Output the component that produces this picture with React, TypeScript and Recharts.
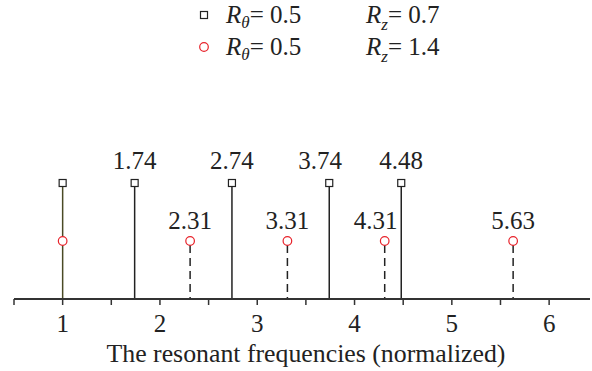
import * as React from 'react';
import { ComposedChart, Scatter, XAxis, YAxis, ReferenceLine, LabelList, Legend } from 'recharts';

// resonant frequencies of the two configurations (normalized)
const squareFreqs = [1, 1.74, 2.74, 3.74, 4.48];
const circleFreqs = [1, 2.31, 3.31, 4.31, 5.63];
const squareLevel = 1;
const circleLevel = 0.5;

const xTicks = [0.5, 1, 1.5, 2, 2.5, 3, 3.5, 4, 4.5, 5, 5.5, 6];

const rThetaValues = ['0.5', '0.5'];
const rZValues = ['0.7', '1.4'];

// a couple of labels sit a little left so they clear the neighbouring stem
const labelNudge: Record<string, number> = { '3.74': -9, '4.31': -9 };

const FONT = 'Liberation Serif, Tinos, Times New Roman, DejaVu Serif, serif';
const INK = '#222';
const RED = '#e8232b';

const squareData = squareFreqs.map(f => ({ f, h: squareLevel }));
const circleData = circleFreqs.map(f => ({ f, h: circleLevel }));

const SquareMark = (p: any) => (
	<rect x={p.cx - 3.5} y={p.cy - 3.5} width={7} height={7} fill="#fff" stroke={INK} strokeWidth={1.2} />
);

const CircleMark = (p: any) => (
	<circle cx={p.cx} cy={p.cy} r={4.3} fill="#fff" stroke={RED} strokeWidth={1.2} />
);

const stemLabel = (lift: number) => (props: any) => {
	const { value } = props;
	if (value === 1) return null;
	const vb = props.viewBox || props;
	const cx = vb.x + (vb.width || 0) / 2;
	const cy = vb.y + (vb.height || 0) / 2;
	const text = Number(value).toFixed(2);
	return (
		<text
			x={cx + (labelNudge[text] || 0)}
			y={cy - lift}
			textAnchor="middle"
			style={{ fontFamily: FONT, fontSize: 25 }}
			fill={INK}
		>
			{text}
		</text>
	);
};

const renderLegend = () => (
	<svg width={592} height={70} style={{ fontFamily: FONT }}>
		{rThetaValues.map((rt, i) => {
			const y = 15 + i * 32;
			return (
				<g key={i}>
					{i === 0 ? (
						<rect x={200.5} y={y - 3.5} width={7} height={7} fill="#fff" stroke={INK} strokeWidth={1.2} />
					) : (
						<circle cx={204} cy={y} r={4.3} fill="#fff" stroke={RED} strokeWidth={1.2} />
					)}
					<text x={226} y={y + 8} style={{ fontFamily: FONT, fontSize: 25 }} fill={INK}>
						<tspan fontStyle="italic">R</tspan>
						<tspan fontStyle="italic" fontSize={17} dy={5}>θ</tspan>
						<tspan dy={-5}>{'= ' + rt}</tspan>
					</text>
					<text x={366} y={y + 8} style={{ fontFamily: FONT, fontSize: 25 }} fill={INK}>
						<tspan fontStyle="italic">R</tspan>
						<tspan fontStyle="italic" fontSize={17} dy={7}>z</tspan>
						<tspan dy={-7}>{'= ' + rZValues[i]}</tspan>
					</text>
				</g>
			);
		})}
	</svg>
);

export default function App() {
	return (
		<div style={{ position: 'absolute', left: 0, top: 0, fontFamily: FONT }}>
			<ComposedChart width={592} height={371} margin={{ top: 183, right: 2, bottom: 0, left: 14 }}>
				<XAxis
					type="number"
					dataKey="f"
					domain={[0.5, 6.42]}
					allowDataOverflow
					ticks={xTicks}
					tickFormatter={(v: number) => (Number.isInteger(v) ? String(v) : '')}
					height={72}
					tickSize={6}
					tickMargin={9}
					axisLine={{ stroke: '#333', strokeWidth: 2 }}
					tickLine={{ stroke: '#333', strokeWidth: 1.5 }}
					tick={{ fill: INK, fontSize: 25, style: { fontFamily: FONT } }}
					label={{
						value: 'The resonant frequencies (normalized)',
						position: 'insideBottom',
						offset: 9,
						dx: 4,
						fill: INK,
						fontSize: 25.8,
						style: { fontFamily: FONT }
					}}
				/>
				<YAxis type="number" dataKey="h" domain={[0, 1]} hide />
				<Legend verticalAlign="middle" align="center" wrapperStyle={{ top: 0, left: 0 }} content={renderLegend} />
				{squareFreqs.map(f => (
					<ReferenceLine
						key={'s' + f}
						segment={[{ x: f, y: 0 }, { x: f, y: squareLevel }]}
						stroke={circleFreqs.includes(f) ? '#4a4a25' : INK}
						strokeWidth={1.5}
					/>
				))}
				{circleFreqs
					.filter(f => !squareFreqs.includes(f))
					.map(f => (
						<ReferenceLine
							key={'c' + f}
							segment={[{ x: f, y: circleLevel }, { x: f, y: 0 }]}
							stroke={INK}
							strokeWidth={1.5}
							strokeDasharray="8 5"
							strokeDashoffset={-4}
						/>
					))}
				<Scatter data={squareData} shape={SquareMark} isAnimationActive={false}>
					<LabelList dataKey="f" content={stemLabel(14)} />
				</Scatter>
				<Scatter data={circleData} shape={CircleMark} isAnimationActive={false}>
					<LabelList dataKey="f" content={stemLabel(12)} />
				</Scatter>
			</ComposedChart>
		</div>
	);
}
